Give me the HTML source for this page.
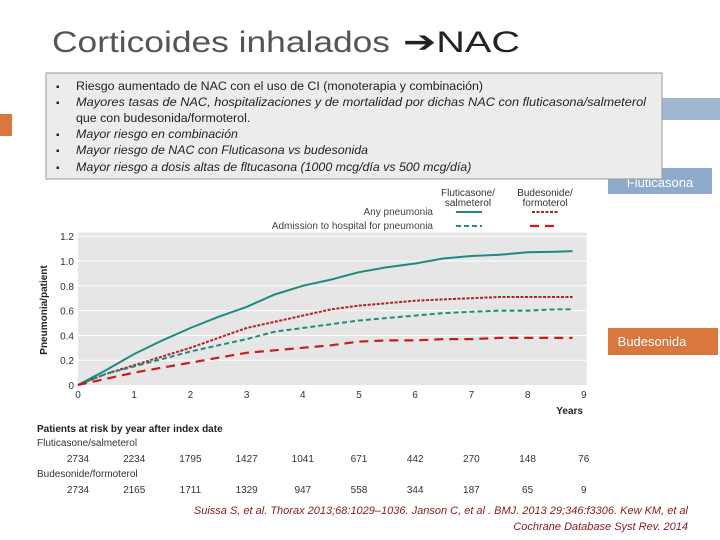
<!DOCTYPE html>
<html><head><meta charset="utf-8"><style>
body{margin:0;background:#fff;}
svg{display:block;font-family:"Liberation Sans",sans-serif;}
</style></head><body>
<svg width="720" height="540" viewBox="0 0 720 540">
<rect x="0" y="0" width="720" height="540" fill="#fff"/>
<text x="52" y="52" font-size="30" fill="#555" textLength="338" lengthAdjust="spacingAndGlyphs">Corticoides inhalados</text>
<text x="403" y="52" font-size="30" fill="#222" textLength="117" lengthAdjust="spacingAndGlyphs">➔NAC</text>
<rect x="0" y="114" width="12" height="22" fill="#d9773f"/>
<rect x="585" y="98" width="135" height="22" fill="#9fb7cf"/>
<rect x="608" y="168" width="104" height="26" fill="#8eabcb"/>
<text x="660" y="187" font-size="13" fill="#fff" text-anchor="middle">Fluticasona</text>
<rect x="608" y="328" width="110" height="27" fill="#d9773f"/>
<text x="652" y="346" font-size="13" fill="#fff" text-anchor="middle">Budesonida</text>
<g id="chart"></g>
<rect x="46" y="73" width="616" height="106" fill="#ececea" stroke="#999" stroke-width="1"/>
<g font-size="12.4" fill="#222">
<text x="56" y="90" font-size="10">▪</text><text x="76" y="90">Riesgo aumentado de NAC con el uso de CI (monoterapia y combinación)</text>
<text x="56" y="106" font-size="10">▪</text><text x="76" y="106" font-style="italic" textLength="570" lengthAdjust="spacingAndGlyphs">Mayores tasas de NAC, hospitalizaciones y de mortalidad por dichas NAC con fluticasona/salmeterol</text>
<text x="76" y="122">que con budesonida/formoterol.</text>
<text x="56" y="138" font-size="10">▪</text><text x="76" y="138" font-style="italic">Mayor riesgo en combinación</text>
<text x="56" y="154" font-size="10">▪</text><text x="76" y="154" font-style="italic">Mayor riesgo de NAC con Fluticasona vs budesonida</text>
<text x="56" y="171" font-size="10">▪</text><text x="76" y="171" font-style="italic">Mayor riesgo a dosis altas de fltucasona (1000 mcg/día vs 500 mcg/día)</text>
</g>
<g font-size="11" fill="#8b1a1a" font-style="italic" text-anchor="end">
<text x="688" y="514">Suissa S, et al. Thorax 2013;68:1029–1036. Janson C, et al . BMJ. 2013 29;346:f3306. Kew KM, et al</text>
<text x="688" y="530">Cochrane Database Syst Rev. 2014</text>
</g>
</svg>
<script>
const years=[0,0.5,1,1.5,2,2.5,3,3.5,4,4.5,5,5.5,6,6.5,7,7.5,8,8.5,8.8];
const flutAny=[0,0.12,0.25,0.36,0.46,0.55,0.63,0.73,0.8,0.85,0.91,0.95,0.98,1.02,1.04,1.05,1.07,1.075,1.08];
const budAny=[0,0.09,0.16,0.23,0.3,0.38,0.46,0.51,0.56,0.61,0.64,0.66,0.68,0.69,0.7,0.71,0.71,0.71,0.71];
const flutHosp=[0,0.09,0.15,0.21,0.27,0.32,0.37,0.43,0.46,0.49,0.52,0.54,0.56,0.58,0.59,0.6,0.6,0.61,0.61];
const budHosp=[0,0.05,0.1,0.14,0.18,0.22,0.26,0.28,0.3,0.32,0.35,0.36,0.36,0.37,0.37,0.38,0.38,0.38,0.38];
const yTicks=[0,0.2,0.4,0.6,0.8,1.0,1.2];
const yTickLabels=["0","0.2","0.4","0.6","0.8","1.0","1.2"];
const xTicks=[0,1,2,3,4,5,6,7,8,9];
const riskFlut=[2734,2234,1795,1427,1041,671,442,270,148,76];
const riskBud=[2734,2165,1711,1329,947,558,344,187,65,9];
const NS="http://www.w3.org/2000/svg";
const g=document.getElementById('chart');
const X=v=>78+v*56.2, Y=v=>385-v*124;
function mk(t,a,txt){const e=document.createElementNS(NS,t);for(const k in a)e.setAttribute(k,a[k]);if(txt!==undefined)e.textContent=txt;g.appendChild(e);return e;}
let e=mk('rect',{x:35,y:180,width:565,height:320,fill:'#fff'});


e=mk('rect',{x:X(0),y:Y(1.23),width:X(9.05)-X(0),height:Y(0)-Y(1.23),fill:'#e6e6e6'});


yTicks.forEach((v,i)=>{
 if(v>0){const l=mk('line',{x1:X(0),x2:X(9.05),y1:Y(v),y2:Y(v),stroke:'#fff','stroke-width':1});
 
 }
 const t=mk('text',{x:74,y:Y(v)+4,'font-size':10,fill:'#333','text-anchor':'end'},yTickLabels[i]);
 
 
});
xTicks.forEach((v,i)=>{
 const t=mk('text',{x:X(v),y:398,'font-size':10,fill:'#333','text-anchor':'middle'},String(v));
 
 
 const a=mk('text',{x:X(v),y:462,'font-size':10,fill:'#333','text-anchor':'middle'},String(riskFlut[i]));
 
 
 const b=mk('text',{x:X(v),y:493,'font-size':10,fill:'#333','text-anchor':'middle'},String(riskBud[i]));
 
 
});
e=mk('text',{x:583,y:414,'font-size':10,'font-weight':'bold',fill:'#222','text-anchor':'end'},'Years');


e=mk('text',{x:0,y:0,'font-size':10,'font-weight':'bold',fill:'#222','text-anchor':'middle',transform:'translate(47,310) rotate(-90)'},'Pneumonia/patient');


e=mk('text',{x:37,y:432,'font-size':10,'font-weight':'bold',fill:'#222'},'Patients at risk by year after index date');


e=mk('text',{x:37,y:446,'font-size':10,fill:'#333'},'Fluticasone/salmeterol');


e=mk('text',{x:37,y:477,'font-size':10,fill:'#333'},'Budesonide/formoterol');


const series=[[flutAny,'#1f8a80','none',2,'line-fluticasone-any'],[budAny,'#b22222','3 1.5',2,'line-budesonide-any'],[flutHosp,'#1f8a80','5 3',2,'line-fluticasone-hospital'],[budHosp,'#c41e1e','9 6',2.2,'line-budesonide-hospital']];
series.forEach(s=>{
 const d=years.map((x,i)=>(i?'L':'M')+X(x).toFixed(1)+','+Y(s[0][i]).toFixed(1)).join(' ');
 const p=mk('path',{d:d,fill:'none',stroke:s[1],'stroke-width':s[3],'stroke-dasharray':s[2]});
 
 
});
e=mk('text',{x:468,y:196,'font-size':10,fill:'#333','text-anchor':'middle'},'Fluticasone/');


mk('text',{x:468,y:206,'font-size':10,fill:'#333','text-anchor':'middle'},'salmeterol');
e=mk('text',{x:545,y:196,'font-size':10,fill:'#333','text-anchor':'middle'},'Budesonide/');


mk('text',{x:545,y:206,'font-size':10,fill:'#333','text-anchor':'middle'},'formoterol');
e=mk('text',{x:433,y:215,'font-size':10,fill:'#444','text-anchor':'end'},'Any pneumonia');


e=mk('text',{x:433,y:229,'font-size':10,fill:'#444','text-anchor':'end'},'Admission to hospital for pneumonia');


[[456,482,212,'#1f8a80','none',2],[532,558,212,'#b22222','3 1.5',2],[456,482,226,'#1f8a80','5 3',2],[530,560,226,'#c41e1e','9 6',2.2]].forEach(l=>{
 const s=mk('line',{x1:l[0],x2:l[1],y1:l[2],y2:l[2],stroke:l[3],'stroke-dasharray':l[4],'stroke-width':l[5]});
 
 
});
</script>
</body></html>
